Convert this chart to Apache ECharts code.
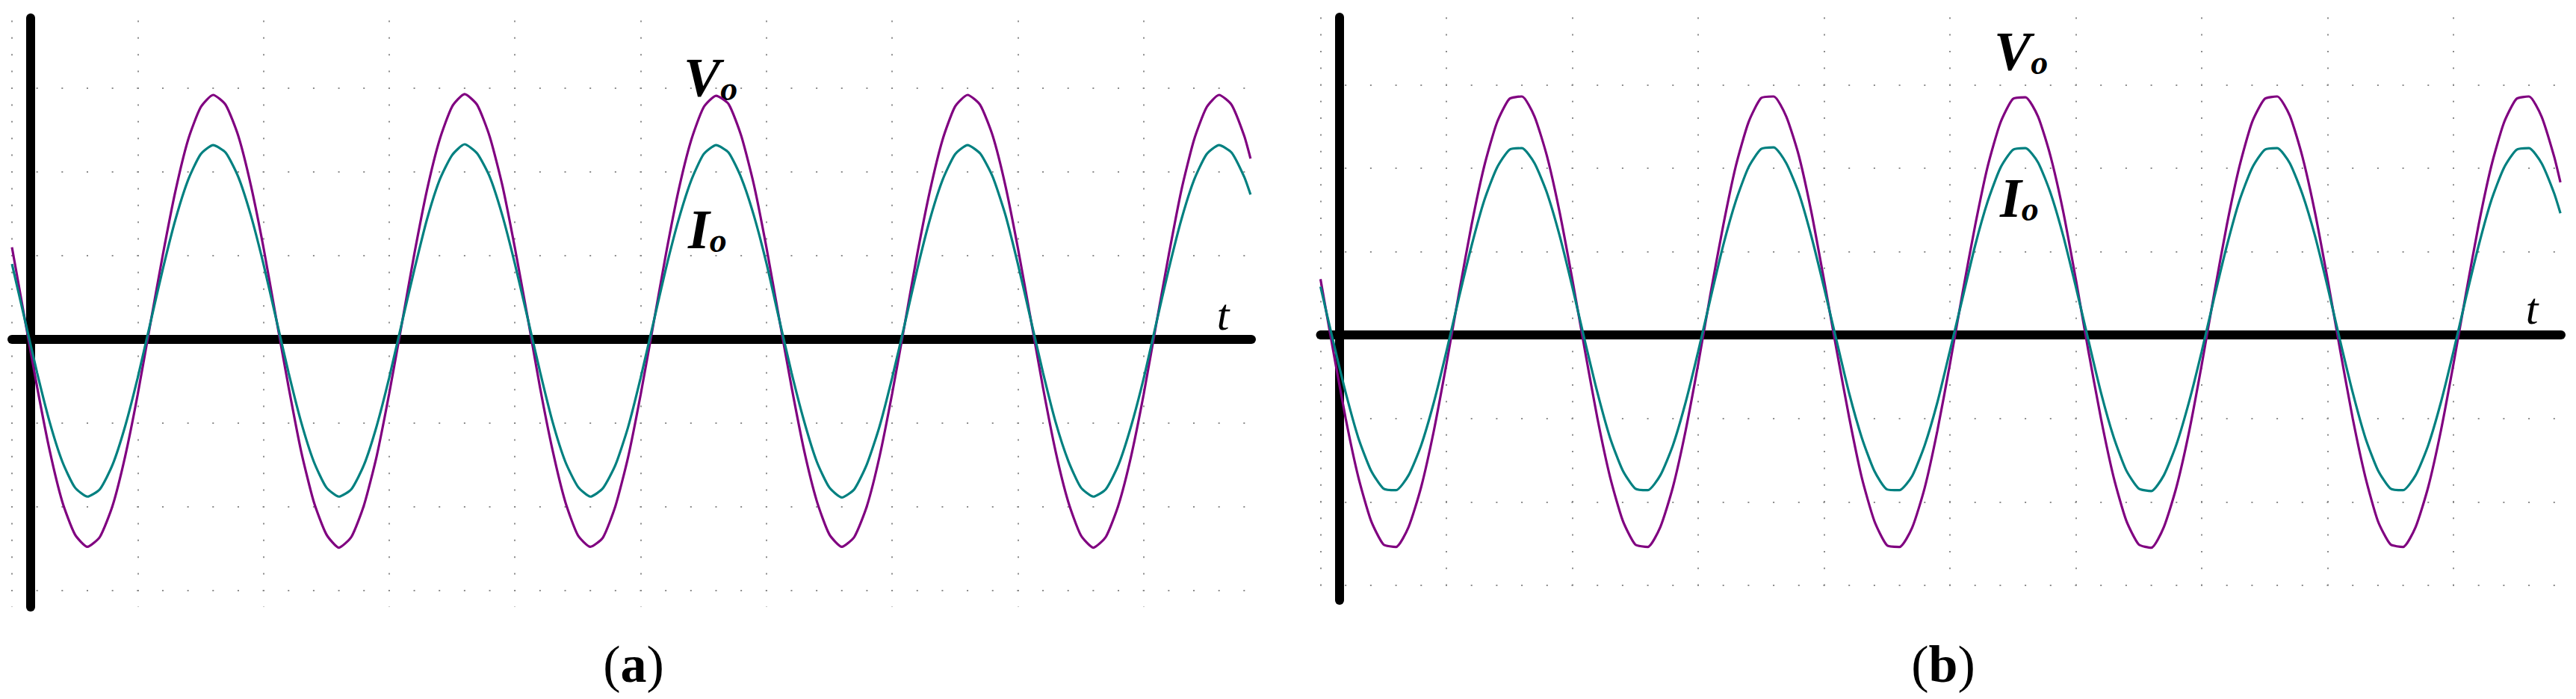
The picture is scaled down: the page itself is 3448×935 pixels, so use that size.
<!DOCTYPE html>
<html>
<head>
<meta charset="utf-8">
<title>Vo / Io waveforms</title>
<script src="https://cdn.jsdelivr.net/npm/echarts@6/dist/echarts.min.js"></script>
<style>
  html, body { margin: 0; padding: 0; background: #fff; }
  #chart { width: 3448px; height: 935px; }
</style>
</head>
<body>
<div id="chart"></div>
<script>
// time in scope divisions (same sampling for both captures)
const timeDiv = [
  0, 0.1, 0.2, 0.3, 0.4, 0.5, 0.6, 0.7, 0.8, 0.9,
  1, 1.1, 1.2, 1.3, 1.4, 1.5, 1.6, 1.7, 1.8, 1.9,
  2, 2.1, 2.2, 2.3, 2.4, 2.5, 2.6, 2.7, 2.8, 2.9,
  3, 3.1, 3.2, 3.3, 3.4, 3.5, 3.6, 3.7, 3.8, 3.9,
  4, 4.1, 4.2, 4.3, 4.4, 4.5, 4.6, 4.7, 4.8, 4.9,
  5, 5.1, 5.2, 5.3, 5.4, 5.5, 5.6, 5.7, 5.8, 5.9,
  6, 6.1, 6.2, 6.3, 6.4, 6.5, 6.6, 6.7, 6.8, 6.9,
  7, 7.1, 7.2, 7.3, 7.4, 7.5, 7.6, 7.7, 7.8, 7.9,
  8, 8.1, 8.2, 8.3, 8.4, 8.5, 8.6, 8.7, 8.8, 8.9,
  9, 9.1, 9.2, 9.3, 9.4, 9.5, 9.6, 9.7, 9.8, 9.85,
];

// (a) output voltage / current, in divisions above the t axis
const voA = [
  1.10, 0.26, -0.57, -1.33, -1.94, -2.33, -2.48, -2.36, -1.99, -1.40, -0.66, 0.18,
  1.01, 1.77, 2.38, 2.77, 2.92, 2.80, 2.43, 1.84, 1.10, 0.26, -0.57, -1.34, -1.94, -2.33, -2.49, -2.36, -1.98, -1.40, -0.65, 0.18,
  1.02, 1.78, 2.38, 2.78, 2.93, 2.80, 2.42, 1.84, 1.09, 0.27, -0.58, -1.33, -1.94, -2.34, -2.48, -2.37, -1.99, -1.41, -0.66, 0.17,
  1.01, 1.77, 2.37, 2.77, 2.91, 2.81, 2.43, 1.85, 1.10, 0.26, -0.57, -1.33, -1.93, -2.33, -2.48, -2.36, -1.99, -1.40, -0.65, 0.18,
  1.02, 1.77, 2.38, 2.78, 2.92, 2.80, 2.43, 1.84, 1.09, 0.26, -0.58, -1.34, -1.94, -2.34, -2.49, -2.36, -1.98, -1.40, -0.66, 0.18,
  1.01, 1.78, 2.38, 2.77, 2.92, 2.80, 2.43, 2.16,
];
const ioA = [
  0.90, 0.25, -0.40, -0.99, -1.46, -1.77, -1.88, -1.79, -1.50, -1.04, -0.46, 0.19,
  0.84, 1.43, 1.90, 2.21, 2.32, 2.23, 1.94, 1.48, 0.90, 0.25, -0.40, -0.99, -1.46, -1.77, -1.88, -1.79, -1.50, -1.04, -0.46, 0.19,
  0.83, 1.43, 1.90, 2.20, 2.33, 2.22, 1.94, 1.48, 0.90, 0.26, -0.39, -0.99, -1.46, -1.76, -1.88, -1.78, -1.50, -1.05, -0.46, 0.19,
  0.84, 1.42, 1.89, 2.21, 2.32, 2.23, 1.93, 1.48, 0.91, 0.25, -0.40, -0.98, -1.46, -1.77, -1.89, -1.79, -1.49, -1.04, -0.46, 0.18,
  0.84, 1.43, 1.90, 2.21, 2.32, 2.22, 1.94, 1.49, 0.90, 0.25, -0.40, -0.99, -1.45, -1.77, -1.88, -1.79, -1.50, -1.04, -0.47, 0.19,
  0.84, 1.43, 1.90, 2.21, 2.32, 2.23, 1.94, 1.73,
];

// (b)
const voB = [
  0.67, -0.18, -1.00, -1.70, -2.22, -2.51, -2.54, -2.30, -1.82, -1.15, -0.35,
  0.50, 1.32, 2.02, 2.54, 2.83, 2.86, 2.62, 2.14, 1.47, 0.67, -0.18, -1.00, -1.70, -2.22, -2.51, -2.54, -2.30, -1.82, -1.15, -0.35,
  0.51, 1.32, 2.03, 2.55, 2.84, 2.86, 2.62, 2.15, 1.47, 0.66, -0.18, -0.99, -1.71, -2.23, -2.52, -2.54, -2.31, -1.83, -1.15, -0.35,
  0.50, 1.31, 2.02, 2.54, 2.83, 2.85, 2.62, 2.14, 1.48, 0.67, -0.19, -1.00, -1.70, -2.22, -2.51, -2.55, -2.30, -1.82, -1.16, -0.36,
  0.50, 1.32, 2.02, 2.55, 2.83, 2.86, 2.63, 2.14, 1.47, 0.67, -0.18, -1.00, -1.70, -2.23, -2.51, -2.54, -2.30, -1.82, -1.15, -0.35,
  0.50, 1.32, 2.02, 2.54, 2.83, 2.86, 2.62, 2.14, 1.83,
];
const ioB = [
  0.58, -0.07, -0.69, -1.23, -1.62, -1.84, -1.86, -1.68, -1.32, -0.81, -0.20,
  0.45, 1.07, 1.61, 2.00, 2.22, 2.24, 2.06, 1.70, 1.19, 0.58, -0.07, -0.69, -1.23, -1.62, -1.84, -1.86, -1.68, -1.32, -0.81, -0.20,
  0.45, 1.08, 1.61, 2.01, 2.23, 2.25, 2.06, 1.70, 1.18, 0.57, -0.07, -0.70, -1.23, -1.63, -1.85, -1.86, -1.69, -1.32, -0.81, -0.19,
  0.44, 1.07, 1.60, 2.00, 2.22, 2.24, 2.07, 1.70, 1.19, 0.58, -0.06, -0.69, -1.22, -1.62, -1.84, -1.87, -1.68, -1.31, -0.80, -0.20,
  0.45, 1.07, 1.61, 2.00, 2.22, 2.24, 2.06, 1.69, 1.19, 0.58, -0.07, -0.69, -1.23, -1.62, -1.84, -1.86, -1.68, -1.32, -0.81, -0.20,
  0.45, 1.07, 1.61, 2.00, 2.22, 2.24, 2.06, 1.70, 1.46,
];

const colorV = "#800080";
const colorI = "#008080";
const dotColor = "#8c8c8c";
const serif = '"Liberation Serif", "Times New Roman", serif';

const zip = (ts, vs) => ts.map((t, i) => [t, vs[i]]);

const myChart = echarts.init(document.getElementById("chart"), null, { renderer: "svg" });

// x axis: black t axis on y = 0, vertical dotted columns of the scope grid
const timeAxis = (gridIndex, max, rowMinor, dashOffset) => ({
  gridIndex: gridIndex,
  type: "value",
  min: 0,
  max: max,
  interval: 1,
  axisLine: { onZero: true, lineStyle: { color: "#000", width: 12 } },
  axisTick: { show: false },
  axisLabel: { show: false },
  splitLine: {
    show: true,
    showMaxLine: false,
    lineStyle: { color: dotColor, width: 2, type: [2, rowMinor - 2], dashOffset: dashOffset },
  },
});

// y axis: thick black line shifted into the plot, dotted rows of the grid
const levelAxis = (gridIndex, min, max, colMinor, shift) => ({
  gridIndex: gridIndex,
  type: "value",
  min: min,
  max: max,
  splitNumber: 7,
  position: "left",
  offset: -shift,
  axisLine: { show: true, onZero: false, lineStyle: { color: "#000", width: 12 } },
  axisTick: { show: false },
  axisLabel: { show: false },
  splitLine: {
    show: true,
    showMinLine: false,
    showMaxLine: false,
    lineStyle: { color: dotColor, width: 2, type: [2, colMinor - 2], dashOffset: 1 },
  },
});

const trace = (idx, data, color) => ({
  type: "line",
  xAxisIndex: idx,
  yAxisIndex: idx,
  data: data,
  showSymbol: false,
  smooth: 0.2,
  lineStyle: { color: color, width: 3.2 },
  itemStyle: { color: color },
});

// V_o / I_o : letter with a lowered "o"
const subLabel = (x, y, main) => ({
  type: "text",
  x: x,
  y: y,
  style: {
    text: "{m|" + main + "}{s|o}",
    align: "left",
    verticalAlign: "middle",
    textAlign: "left",
    textVerticalAlign: "middle",
    rich: {
      m: { font: "italic bold 74px " + serif, fill: "#000", lineHeight: 74, verticalAlign: "bottom" },
      s: { font: "italic bold 46px " + serif, fill: "#000", lineHeight: 61, verticalAlign: "bottom" },
    },
  },
});

const tLabel = (x, y) => ({
  type: "text",
  x: x,
  y: y,
  style: {
    text: "t",
    font: "italic 60px " + serif,
    fill: "#000",
    align: "center",
    verticalAlign: "middle",
    textAlign: "center",
    textVerticalAlign: "middle",
  },
});

const caption = (x, y, letter) => ({
  type: "text",
  x: x,
  y: y,
  style: {
    text: "{p|(}{b|" + letter + "}{p|)}",
    align: "center",
    verticalAlign: "middle",
    textAlign: "center",
    textVerticalAlign: "middle",
    rich: {
      p: { font: "70px " + serif, fill: "#000" },
      b: { font: "bold 70px " + serif, fill: "#000" },
    },
  },
});

myChart.setOption({
  animation: false,
  backgroundColor: "#fff",
  grid: [
    { left: 16, top: 24, width: 1659, height: 788 },
    { left: 1767.5, top: 23, width: 1660.5, height: 780 },
  ],
  xAxis: [
    timeAxis(0, 9.857, 22.4, 19.0),
    timeAxis(1, 9.855, 22.3, 22.0),
  ],
  yAxis: [
    levelAxis(0, -3.2, 3.84, 33.66, 25),
    levelAxis(1, -3.18, 3.81, 33.7, 25.5),
  ],
  series: [
    trace(0, zip(timeDiv, voA), colorV),
    trace(0, zip(timeDiv, ioA), colorI),
    trace(1, zip(timeDiv, voB), colorV),
    trace(1, zip(timeDiv, ioB), colorI),
  ],
  graphic: [
    subLabel(915, 104, "V"),
    subLabel(921, 307, "I"),
    tLabel(1637, 421),
    subLabel(2669, 69, "V"),
    subLabel(2677, 265, "I"),
    tLabel(3389, 413),
    caption(848, 888, "a"),
    caption(2601, 888, "b"),
  ],
});
</script>
</body>
</html>
